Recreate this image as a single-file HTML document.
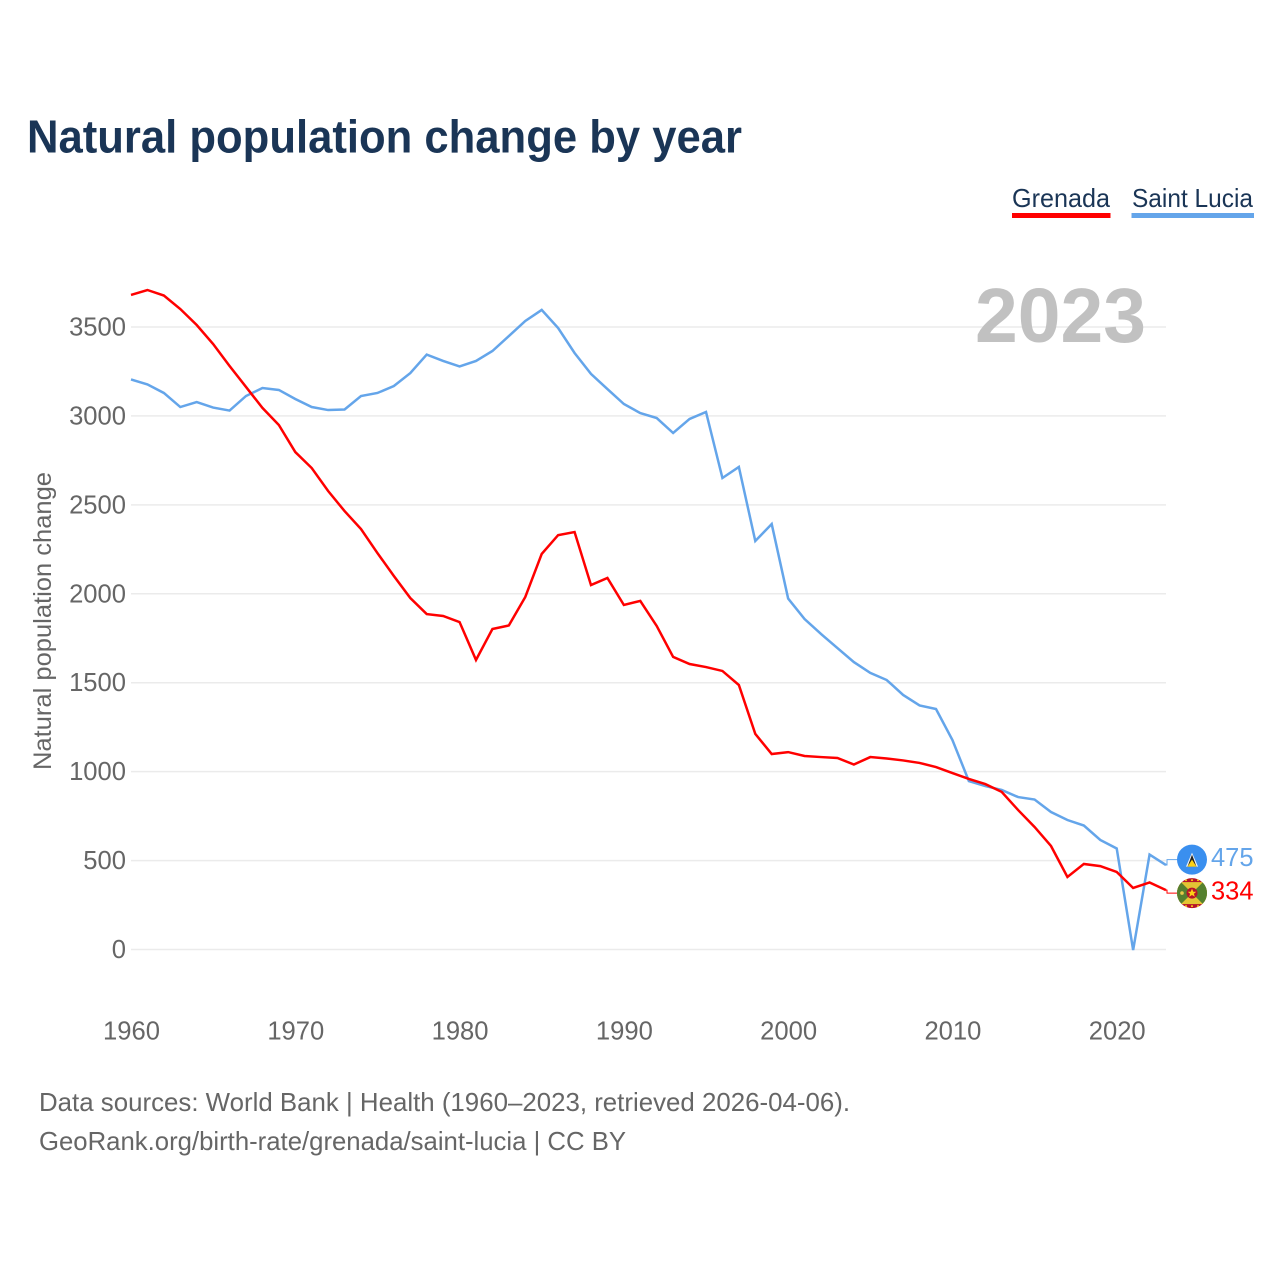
<!DOCTYPE html>
<html lang="en">
<head>
<meta charset="utf-8">
<title>Natural population change by year</title>
<style>
html,body{margin:0;padding:0;background:#fff;width:1280px;height:1280px;overflow:hidden}
svg{display:block}
text{font-family:"Liberation Sans",sans-serif}
</style>
</head>
<body>
<svg id="chart" xmlns="http://www.w3.org/2000/svg" width="1280" height="1280" viewBox="0 0 1280 1280">
  <defs>
    <clipPath id="flag-clip"><circle cx="0" cy="0" r="15"/></clipPath>
  </defs>
  <rect x="0" y="0" width="1280" height="1280" fill="#fff"/>
  <text x="27" y="152.500" font-size="46" font-weight="700" fill="#1a3556" textLength="715" lengthAdjust="spacingAndGlyphs">Natural population change by year</text>

  <g>
    <text x="1012" y="207" font-size="26" fill="#1a3556" textLength="98" lengthAdjust="spacingAndGlyphs">Grenada</text>
    <rect x="1012" y="213" width="98.500" height="5" fill="#ff0000"/>
    <text x="1132" y="207" font-size="26" fill="#1a3556" textLength="121" lengthAdjust="spacingAndGlyphs">Saint Lucia</text>
    <rect x="1131.500" y="213" width="122.500" height="5" fill="#64a5ea"/>
  </g>

  <g id="grid"></g>
  <text x="975" y="342" font-size="77" font-weight="700" fill="#c1c1c1" textLength="171" lengthAdjust="spacingAndGlyphs">2023</text>
  <g id="y-axis"></g>
  <g id="x-axis"></g>
  <text transform="translate(51,621) rotate(-90)" text-anchor="middle" font-size="25" fill="#666666" textLength="298" lengthAdjust="spacingAndGlyphs">Natural population change</text>
  <g id="series"></g>
  <g id="end-labels"></g>

  <g id="flag-saint-lucia">
    <g clip-path="url(#flag-clip)">
      <rect x="-16" y="-16" width="32" height="32" fill="#3a8fef"/>
      <polygon points="0,-7 6,7 -6,7" fill="#f4f4f4"/>
      <polygon points="0,-5 4.500,7 -4.500,7" fill="#222222"/>
      <polygon points="0,0 4.500,7 -4.500,7" fill="#fcd116"/>
    </g>
  </g>
  <g id="flag-grenada">
    <g clip-path="url(#flag-clip)">
      <rect x="-16" y="-16" width="32" height="32" fill="#b5132a"/>
      <rect x="-15" y="-11" width="30" height="22" fill="#e3c534"/>
      <polygon points="-16,-11 -11,-11 0,0 -11,11 -16,11" fill="#55802f"/>
      <polygon points="16,-11 11,-11 0,0 11,11 16,11" fill="#55802f"/>
      <circle cx="0" cy="0" r="5.500" fill="#b5132a"/>
      <polygon points="0,-4.500 1.300,-1.400 4.300,-1.400 1.900,0.600 2.800,3.700 0,1.900 -2.800,3.700 -1.900,0.600 -4.300,-1.400 -1.300,-1.400" fill="#fcd116"/>
      <circle cx="-10" cy="0" r="1.800" fill="#e8c84a"/>
      <circle cx="-6" cy="-13" r="1" fill="#fcd116"/>
      <circle cx="0" cy="-13" r="1" fill="#fcd116"/>
      <circle cx="6" cy="-13" r="1" fill="#fcd116"/>
      <circle cx="-6" cy="13" r="1" fill="#fcd116"/>
      <circle cx="0" cy="13" r="1" fill="#fcd116"/>
      <circle cx="6" cy="13" r="1" fill="#fcd116"/>
    </g>
  </g>

  <text x="39" y="1111" font-size="26" fill="#666666" textLength="811" lengthAdjust="spacingAndGlyphs">Data sources: World Bank | Health (1960–2023, retrieved 2026-04-06).</text>
  <text x="39" y="1150" font-size="26" fill="#666666" textLength="587" lengthAdjust="spacingAndGlyphs">GeoRank.org/birth-rate/grenada/saint-lucia | CC BY</text>
</svg>
<script>
const startYear = 1960;
const yTicks = [0, 500, 1000, 1500, 2000, 2500, 3000, 3500];
const xTicks = [1960, 1970, 1980, 1990, 2000, 2010, 2020];
const grenadaValues = [3680, 3708, 3677, 3601, 3511, 3404, 3281, 3163, 3045, 2949,
  2797, 2707, 2578, 2465, 2364, 2229, 2100, 1976, 1886, 1875,
  1841, 1628, 1802, 1822, 1982, 2224, 2330, 2347, 2049, 2089,
  1937, 1960, 1819, 1645, 1605, 1588, 1566, 1487, 1212, 1099,
  1110, 1088, 1082, 1077, 1040, 1082, 1074, 1063, 1049, 1026,
  992, 959, 930, 886, 784, 689, 582, 408, 481, 469,
  436, 346, 377, 334];
const saintLuciaValues = [3205, 3177, 3129, 3050, 3078, 3047, 3030, 3112, 3157, 3146,
  3095, 3050, 3033, 3036, 3112, 3129, 3168, 3241, 3345, 3309,
  3278, 3309, 3365, 3449, 3534, 3596, 3494, 3354, 3236, 3151,
  3067, 3016, 2988, 2904, 2983, 3022, 2651, 2713, 2297, 2392,
  1973, 1858, 1774, 1695, 1616, 1555, 1515, 1431, 1372, 1352,
  1178, 947, 919, 897, 857, 843, 773, 728, 697, 616,
  568, -3, 534, 475];

const SVG_NS = 'http://www.w3.org/2000/svg';
const plotLeft = 131;
const plotRight = 1166;
const zeroY = 949.5;
const pxPerUnit = 0.17786;
const pxPerYear = (plotRight - plotLeft) / 63;
function xScale(year) { return plotLeft + (year - startYear) * pxPerYear; }
function yScale(value) { return zeroY - value * pxPerUnit; }
function make(tag) { return document.createElementNS(SVG_NS, tag); }

const gridGroup = document.getElementById('grid');
const yAxisGroup = document.getElementById('y-axis');
yTicks.forEach(function (tick) {
  const line = make('line');
  
  
  line.setAttribute('x1', plotLeft);
  line.setAttribute('x2', plotRight);
  line.setAttribute('y1', yScale(tick));
  line.setAttribute('y2', yScale(tick));
  line.setAttribute('stroke', '#ebebeb');
  line.setAttribute('stroke-width', '1.500');
  gridGroup.appendChild(line);
  const label = make('text');
  
  
  label.setAttribute('x', 126);
  label.setAttribute('y', yScale(tick) + 8.500);
  label.setAttribute('text-anchor', 'end');
  label.setAttribute('font-size', '25.600');
  label.setAttribute('fill', '#666666');
  label.textContent = String(tick);
  yAxisGroup.appendChild(label);
});

const xAxisGroup = document.getElementById('x-axis');
xTicks.forEach(function (tick) {
  const label = make('text');
  
  
  label.setAttribute('x', xScale(tick) + 0.500);
  label.setAttribute('y', 1039.500);
  label.setAttribute('text-anchor', 'middle');
  label.setAttribute('font-size', '25.600');
  label.setAttribute('fill', '#666666');
  label.textContent = String(tick);
  xAxisGroup.appendChild(label);
});

function linePoints(values) {
  return values.map(function (v, i) {
    return xScale(startYear + i).toFixed(2) + ',' + yScale(v).toFixed(2);
  }).join(' ');
}

const seriesGroup = document.getElementById('series');
const blueLine = make('polyline');


blueLine.setAttribute('points', linePoints(saintLuciaValues));
blueLine.setAttribute('fill', 'none');
blueLine.setAttribute('stroke', '#64a5ea');
blueLine.setAttribute('stroke-width', '2.500');
seriesGroup.appendChild(blueLine);
const redLine = make('polyline');


redLine.setAttribute('points', linePoints(grenadaValues));
redLine.setAttribute('fill', 'none');
redLine.setAttribute('stroke', '#ff0000');
redLine.setAttribute('stroke-width', '2.500');
seriesGroup.appendChild(redLine);

// End labels: flags + values, pushed apart when closer than the flag height.
const lastBlue = saintLuciaValues[saintLuciaValues.length - 1];
const lastRed = grenadaValues[grenadaValues.length - 1];
let blueY = yScale(lastBlue);
let redY = yScale(lastRed);
const minGap = 33.500;
if (Math.abs(blueY - redY) < minGap) {
  const mid = (blueY + redY) / 2 - 1.2;
  const dir = blueY <= redY ? -1 : 1;
  blueY = mid + dir * minGap / 2;
  redY = mid - dir * minGap / 2;
}
const endGroup = document.getElementById('end-labels');
function addConnector(name, value, labelY, color) {
  const path = make('polyline');
  
  
  path.setAttribute('points', plotRight + ',' + yScale(value) + ' 1167,' + yScale(value) + ' 1167,' + labelY + ' 1177,' + labelY);
  path.setAttribute('fill', 'none');
  path.setAttribute('stroke', color);
  path.setAttribute('stroke-width', '1');
  endGroup.appendChild(path);
}
function addValue(name, value, labelY, color) {
  const text = make('text');
  
  
  text.setAttribute('x', 1211);
  text.setAttribute('y', labelY + 6.500);
  text.setAttribute('font-size', '26');
  text.setAttribute('fill', color);
  text.setAttribute('textLength', '42.500');
  text.setAttribute('lengthAdjust', 'spacingAndGlyphs');
  text.textContent = String(value);
  endGroup.appendChild(text);
}
addConnector('saint-lucia-connector', lastBlue, blueY, '#64a5ea');
addConnector('grenada-connector', lastRed, redY, '#ff0000');
addValue('saint-lucia-end-value', lastBlue, blueY, '#64a5ea');
addValue('grenada-end-value', lastRed, redY, '#ff0000');
document.getElementById('flag-saint-lucia').setAttribute('transform', 'translate(1192,' + blueY + ')');
document.getElementById('flag-grenada').setAttribute('transform', 'translate(1192,' + redY + ')');
</script>
</body>
</html>
